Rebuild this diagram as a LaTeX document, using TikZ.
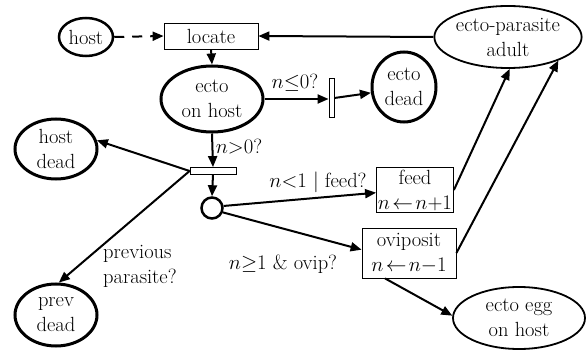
\documentclass[tikz,border=0pt]{standalone}
\usetikzlibrary{shapes.geometric,arrows.meta}
\begin{document}
\begin{tikzpicture}[x=1pt,y=-1pt,
  every node/.style={font=\fontsize{20.5}{25}\selectfont, inner sep=0pt, align=center},
  ell/.style={ellipse, draw},
  thickell/.style={ell, line width=3pt},
  thinell/.style={ell, line width=1.8pt},
  boxnode/.style={rectangle, draw, line width=0.8pt},
  barnode/.style={rectangle, draw, line width=0.8pt},
  arr/.style={line width=2pt, -{Triangle[length=11pt,width=9pt]}}]
\useasboundingbox[fill=white] (0,0) rectangle (587,350);

% nodes
\node[ell, line width=2.5pt, minimum width=54pt, minimum height=38pt] (host) at (86,37) {host};
\node[boxnode, minimum width=94pt, minimum height=26pt] (locate) at (211,36) {locate};
\node[thickell, minimum width=102pt, minimum height=66pt] (ectohost) at (212,99) {ecto\\on host};
\node[thinell, minimum width=142pt, minimum height=62pt] (adult) at (508,37) {ecto-parasite\\adult};
\node[barnode, minimum width=5pt, minimum height=39pt] (vbar) at (331.5,98) {};
\node[thickell, minimum width=64pt, minimum height=70pt] (ectodead) at (404,87) {ecto\\dead};
\node[barnode, minimum width=46pt, minimum height=7pt] (hbar) at (213,171) {};
\node[thickell, minimum width=82pt, minimum height=60pt] (hostdead) at (56,149) {host\\dead};
\node[thickell, minimum width=82pt, minimum height=62pt] (prevdead) at (56,315) {prev\\dead};
\node[circle, draw, line width=2.5pt, minimum size=21pt] (junc) at (212,208) {};
\node[boxnode, minimum width=77pt, minimum height=45pt] (feed) at (415,190) {feed\\$n\!\leftarrow\! n{+}1$};
\node[boxnode, minimum width=94pt, minimum height=50pt] (ovi) at (409,253) {oviposit\\$n\!\leftarrow\! n{-}1$};
\node[thinell, minimum width=132pt, minimum height=62pt] (egg) at (519,318) {ecto egg\\on host};

% labels
\node (l1) at (295,83) {$n{\leq}0$?};
\node (l2) at (239,147) {$n{>}0$?};
\node (l3) at (318,182) {$n{<}1$ $|$ feed?};
\node (l4) at (283,264) {$n{\geq}1$ \& ovip?};
\node[align=left, anchor=west] (l5) at (103,266) {previous\\parasite?};

% connectors
\draw[arr, dash pattern=on 10pt off 8pt] (host.east) -- (locate.west);
\draw[arr] (adult.west) -- (locate.east);
\draw[arr] (locate.south) -- (ectohost.north);
\draw[arr] (ectohost.east) -- (ectohost.east -| vbar.west);
\draw[arr] (vbar.east) -- (ectodead.190);
\draw[arr] (ectohost.south) -- (hbar.north);
\draw[arr] (hbar.west) -- (hostdead.12);
\draw[arr] (hbar.west) -- (prevdead.85);
\draw[arr] (hbar.south) -- (junc.north);
\draw[arr] (junc.10) -- (feed.184);
\draw[arr] (junc.338) -- (ovi.176);
\draw[arr] (feed.east) -- (adult.273);
\draw[arr] (ovi.east) -- (adult.335);
\draw[arr] ([xshift=-24pt]ovi.south) -- (egg.178);
\end{tikzpicture}
\end{document}
